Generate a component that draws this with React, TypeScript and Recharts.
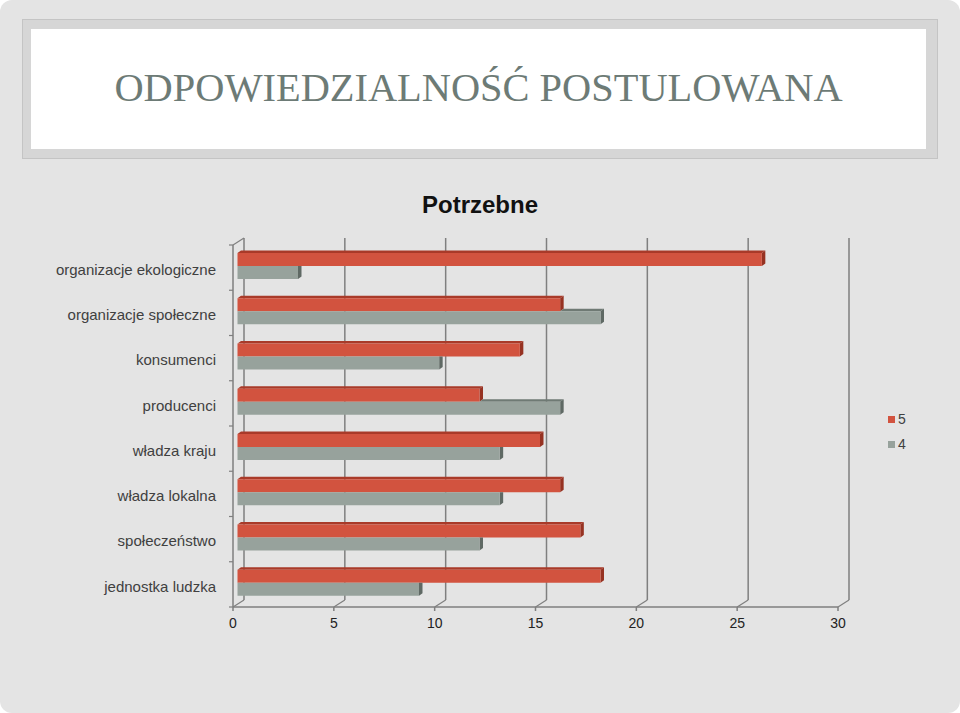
import React from "react";
import { BarChart, Bar, XAxis, YAxis, CartesianGrid } from "recharts";

const categories = [
  "organizacje ekologiczne",
  "organizacje społeczne",
  "konsumenci",
  "producenci",
  "władza kraju",
  "władza lokalna",
  "społeczeństwo",
  "jednostka ludzka",
];
const values5 = [26, 16, 14, 12, 15, 16, 17, 18];
const values4 = [3, 18, 10, 16, 13, 13, 12, 9];
const seriesNames = ["5", "4"];
const seriesColors = ["#d2533f", "#97a29c"];
const xTicks = [0, 5, 10, 15, 20, 25, 30];

const data = categories.map((name, i) => ({ name, s5: values5[i], s4: values4[i] }));

// 3d look: wall offset and bar depth
const WALL_X = 11;
const WALL_Y = -7;
const BAR_DX = 4.5;
const BAR_DY = -2;
const DEP_X = 3.5;
const DEP_Y = -2.5;
const AXIS = "#7f7f7f";

const make3DBar = (front: string, top: string, side: string, ownKey: string, frontKey?: string) =>
  (props: any) => {
    const { x, y, width, height, payload } = props;
    if (!width || width <= 0) return <g />;
    const x0 = x + BAR_DX;
    const y0 = y + BAR_DY;
    const x1 = x0 + width;
    let topStart = x0;
    let hidden = false;
    if (frontKey) {
      const ppu = width / payload[ownKey];
      const other = payload[frontKey] * ppu;
      topStart = x0 + Math.min(other, width);
      hidden = other >= width;
    }
    const sideTop = hidden ? `${x1},${y0} ${x1 + DEP_X},${y0}` : `${x1},${y0} ${x1 + DEP_X},${y0 + DEP_Y}`;
    return (
      <g>
        {topStart < x1 && (
          <polygon
            points={`${topStart},${y0} ${x1},${y0} ${x1 + DEP_X},${y0 + DEP_Y} ${topStart + DEP_X},${y0 + DEP_Y}`}
            fill={top}
          />
        )}
        <polygon
          points={`${sideTop} ${x1 + DEP_X},${y0 + height + DEP_Y} ${x1},${y0 + height}`}
          fill={side}
        />
        <rect x={x0} y={y0} width={width} height={height} fill={front} />
      </g>
    );
  };

const RedBar = make3DBar("#d2533f", "#a93a29", "#963222", "s5");
const GrayBar = make3DBar("#97a29c", "#6f7a74", "#5f6964", "s4", "s5");

const verticalLine = (p: any) => (
  <g key={p.key}>
    <line x1={p.x1 + WALL_X} y1={p.y1 + WALL_Y} x2={p.x2 + WALL_X} y2={p.y2 + WALL_Y} stroke={AXIS} strokeWidth={1.5} />
    <line x1={p.x2} y1={p.y2} x2={p.x2 + WALL_X} y2={p.y2 + WALL_Y} stroke={AXIS} strokeWidth={1.2} />
  </g>
);

const horizontalLine = (p: any) => (
  <g key={p.key}>
    <line x1={p.x1 - 4} y1={p.y1} x2={p.x1} y2={p.y1} stroke={AXIS} strokeWidth={1.2} />
    {p.index === 0 && (
      <line x1={p.x1} y1={p.y1} x2={p.x1 + WALL_X} y2={p.y1 + WALL_Y} stroke={AXIS} strokeWidth={1.2} />
    )}
  </g>
);

export default function App() {
  return (
    <div style={{ position: "fixed", left: 0, top: 0, width: 960, height: 713, background: "#ffffff" }}>
      <div
        style={{
          position: "absolute",
          left: 0,
          top: 0,
          width: 960,
          height: 713,
          background: "#e4e4e4",
          borderRadius: 12,
          fontFamily: "'Liberation Sans', Arial, sans-serif",
        }}
      >
        <div
          style={{
            position: "absolute",
            left: 22,
            top: 19,
            width: 914,
            height: 138,
            background: "#d6d6d6",
            border: "1px solid #c4c4c4",
          }}
        />
        <div
          style={{
            position: "absolute",
            left: 31,
            top: 29,
            width: 895,
            height: 120,
            background: "#ffffff",
          }}
        />
        <div
          style={{
            position: "absolute",
            left: 31,
            top: 68,
            width: 895,
            textAlign: "center",
            fontFamily: "'Liberation Serif', 'Times New Roman', serif",
            fontSize: 40.4,
            lineHeight: "40px",
            color: "#6d7b76",
            whiteSpace: "nowrap",
          }}
        >
          ODPOWIEDZIALNOŚĆ POSTULOWANA
        </div>
        <div
          style={{
            position: "absolute",
            left: 0,
            top: 193,
            width: 960,
            textAlign: "center",
            fontSize: 24,
            lineHeight: "24px",
            fontWeight: "bold",
            color: "#111111",
          }}
        >
          Potrzebne
        </div>
        <BarChart
          width={960}
          height={713}
          data={data}
          layout="vertical"
          margin={{ top: 245, right: 122, bottom: 76, left: 0 }}
          barSize={13}
          barGap={0}
          style={{ position: "absolute", left: 0, top: 0 }}
        >
          <CartesianGrid
            stroke={AXIS}
            vertical={verticalLine}
            horizontal={horizontalLine}
            horizontalCoordinatesGenerator={({ offset }: any) =>
              categories.map((_, i) => offset.top + (i * offset.height) / categories.length).concat(offset.top + offset.height)
            }
          />
          <XAxis
            type="number"
            domain={[0, 30]}
            ticks={xTicks}
            interval={0}
            stroke={AXIS}
            strokeWidth={1.5}
            tickSize={4}
            tickMargin={7}
            tick={{ fill: "#222222", fontSize: 14 }}
          />
          <YAxis
            type="category"
            dataKey="name"
            width={233}
            stroke={AXIS}
            strokeWidth={1.5}
            tickLine={false}
            tickSize={0}
            tickMargin={17}
            tick={{ fill: "#404040", fontSize: 15, dy: 2 }}
          />
          <Bar dataKey="s5" name={seriesNames[0]} fill={seriesColors[0]} shape={RedBar} isAnimationActive={false} />
          <Bar dataKey="s4" name={seriesNames[1]} fill={seriesColors[1]} shape={GrayBar} isAnimationActive={false} />
        </BarChart>
        {seriesNames.map((s, i) => (
          <div
            key={s}
            style={{
              position: "absolute",
              left: 888,
              top: 410 + i * 25,
              height: 18,
              display: "flex",
              alignItems: "center",
              fontSize: 14,
              color: "#404040",
            }}
          >
            <span style={{ width: 7, height: 7, background: seriesColors[i], marginRight: 3, display: "inline-block" }} />
            {s}
          </div>
        ))}
      </div>
    </div>
  );
}
